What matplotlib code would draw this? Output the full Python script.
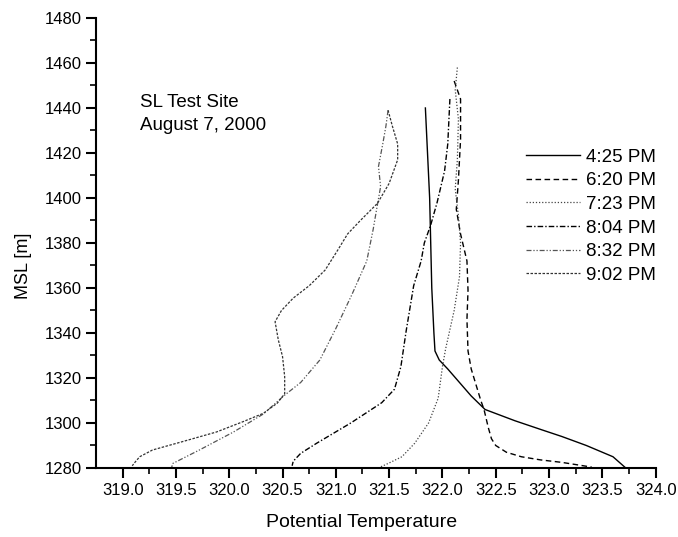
import matplotlib
matplotlib.use("Agg")
import matplotlib.pyplot as plt
import numpy as np

plt.rcParams['font.family'] = ['Liberation Sans', 'DejaVu Sans']

labels = ["4:25 PM", "6:20 PM", "7:23 PM", "8:04 PM", "8:32 PM", "9:02 PM"]

t425_x = [321.84, 321.86, 321.88, 321.89, 321.90, 321.92, 321.93, 321.97, 322.05, 322.16, 322.27, 322.40, 322.68, 322.93, 323.12, 323.35, 323.60, 323.72]
t425_y = [1440, 1420, 1400, 1380, 1360, 1340, 1332, 1328, 1324, 1318, 1312, 1306, 1301, 1297, 1294, 1290, 1285, 1280]

t620_x = [322.11, 322.17, 322.17, 322.15, 322.13, 322.17, 322.23, 322.24, 322.23, 322.24, 322.27, 322.36, 322.39, 322.43, 322.46, 322.50, 322.60, 322.74, 322.92, 323.12, 323.40]
t620_y = [1452, 1444, 1426, 1408, 1395, 1384, 1372, 1359, 1346, 1332, 1324, 1310, 1306, 1298, 1293, 1290, 1287, 1285, 1283.6, 1282.5, 1280.4]

t723_x = [322.14, 322.12, 322.15, 322.14, 322.12, 322.15, 322.17, 322.16, 322.11, 322.03, 322.00, 321.96, 321.87, 321.74, 321.62, 321.49, 321.42]
t723_y = [1458, 1448, 1435, 1417, 1404, 1392, 1380, 1365, 1350, 1333, 1325, 1311, 1300, 1291, 1285, 1282, 1280.5]

t804_x = [322.07, 322.05, 322.02, 321.95, 321.89, 321.83, 321.80, 321.73, 321.66, 321.61, 321.55, 321.43, 321.14, 320.82, 320.67, 320.60, 320.59]
t804_y = [1444, 1424, 1412, 1398, 1388, 1380, 1372, 1361, 1341, 1325, 1315, 1309, 1300, 1291, 1286.5, 1283, 1281]

t832_x = [321.49, 321.47, 321.44, 321.40, 321.42, 321.39, 321.35, 321.29, 321.15, 321.00, 320.85, 320.67, 320.51, 320.32, 320.04, 319.72, 319.47, 319.46]
t832_y = [1439, 1432, 1424, 1414, 1405, 1397, 1386, 1372, 1357, 1342, 1328, 1318, 1312, 1304, 1296, 1288, 1282, 1280.3]

t902_x = [321.49, 321.53, 321.58, 321.58, 321.50, 321.39, 321.23, 321.11, 321.02, 320.90, 320.75, 320.60, 320.49, 320.43, 320.46, 320.50, 320.52, 320.52, 320.45, 320.32, 320.13, 319.88, 319.56, 319.28, 319.16, 319.12, 319.09]
t902_y = [1439, 1432, 1424, 1417, 1406.5, 1397.6, 1390, 1384, 1377, 1368, 1361, 1355.5, 1350, 1345, 1337, 1329.5, 1320.6, 1313, 1308.8, 1304.3, 1300.6, 1296, 1291.7, 1288, 1285, 1282.8, 1281]

series = [(t425_x, t425_y), (t620_x, t620_y), (t723_x, t723_y),
          (t804_x, t804_y), (t832_x, t832_y), (t902_x, t902_y)]
styles = [
    dict(color='black', lw=1.0, linestyle='-'),
    dict(color='black', lw=1.0, linestyle=(0, (4, 2.5))),
    dict(color='#444444', lw=0.9, linestyle=(0, (1, 1.5))),
    dict(color='black', lw=1.0, linestyle=(0, (4, 1.5, 1, 1.5))),
    dict(color='#555555', lw=0.9, linestyle=(0, (4, 1.5, 1, 1.5, 1, 1.5))),
    dict(color='#333333', lw=0.9, linestyle=(0, (2, 1.2))),
]

fig = plt.figure(figsize=(6.78, 5.37), dpi=100)
ax = fig.add_axes([0.1416, 0.1285, 0.8254, 0.838])

for (x, y), lab, st in zip(series, labels, styles):
    ax.plot(x, y, label=lab, **st)

ax.set_xlim(318.75, 324.0)
ax.set_ylim(1280, 1480)
ax.set_xticks(np.arange(319.0, 324.01, 0.5))
ax.set_xticks(np.arange(319.0, 324.01, 0.25), minor=True)
ax.set_yticks(np.arange(1280, 1481, 20))
ax.set_yticks(np.arange(1280, 1481, 10), minor=True)
ax.set_xticklabels([f"{v:.1f}" for v in np.arange(319.0, 324.01, 0.5)])

for s in ['top', 'right']:
    ax.spines[s].set_visible(False)
for s in ['left', 'bottom']:
    ax.spines[s].set_linewidth(1.5)
ax.tick_params(axis='both', which='major', direction='out', length=7, width=1.5, labelsize=12)
ax.tick_params(axis='both', which='minor', direction='out', length=4, width=1.2)

ax.set_xlabel("Potential Temperature", fontsize=14)
ax.xaxis.set_label_coords(0.475, -0.103)
ax.set_ylabel("MSL [m]", fontsize=13)
ax.yaxis.set_label_coords(-0.115, 0.45)

ax.text(319.16, 1446, "SL Test Site\nAugust 7, 2000", fontsize=13.5, va='top', ha='left', linespacing=1.45)

leg = ax.legend(loc='upper left', bbox_to_anchor=(0.768, 0.71), frameon=False,
                fontsize=13.5, handlelength=2.9, handletextpad=0.3,
                labelspacing=0.35, borderpad=0, borderaxespad=0)

fig.savefig("out.png", dpi=100)
